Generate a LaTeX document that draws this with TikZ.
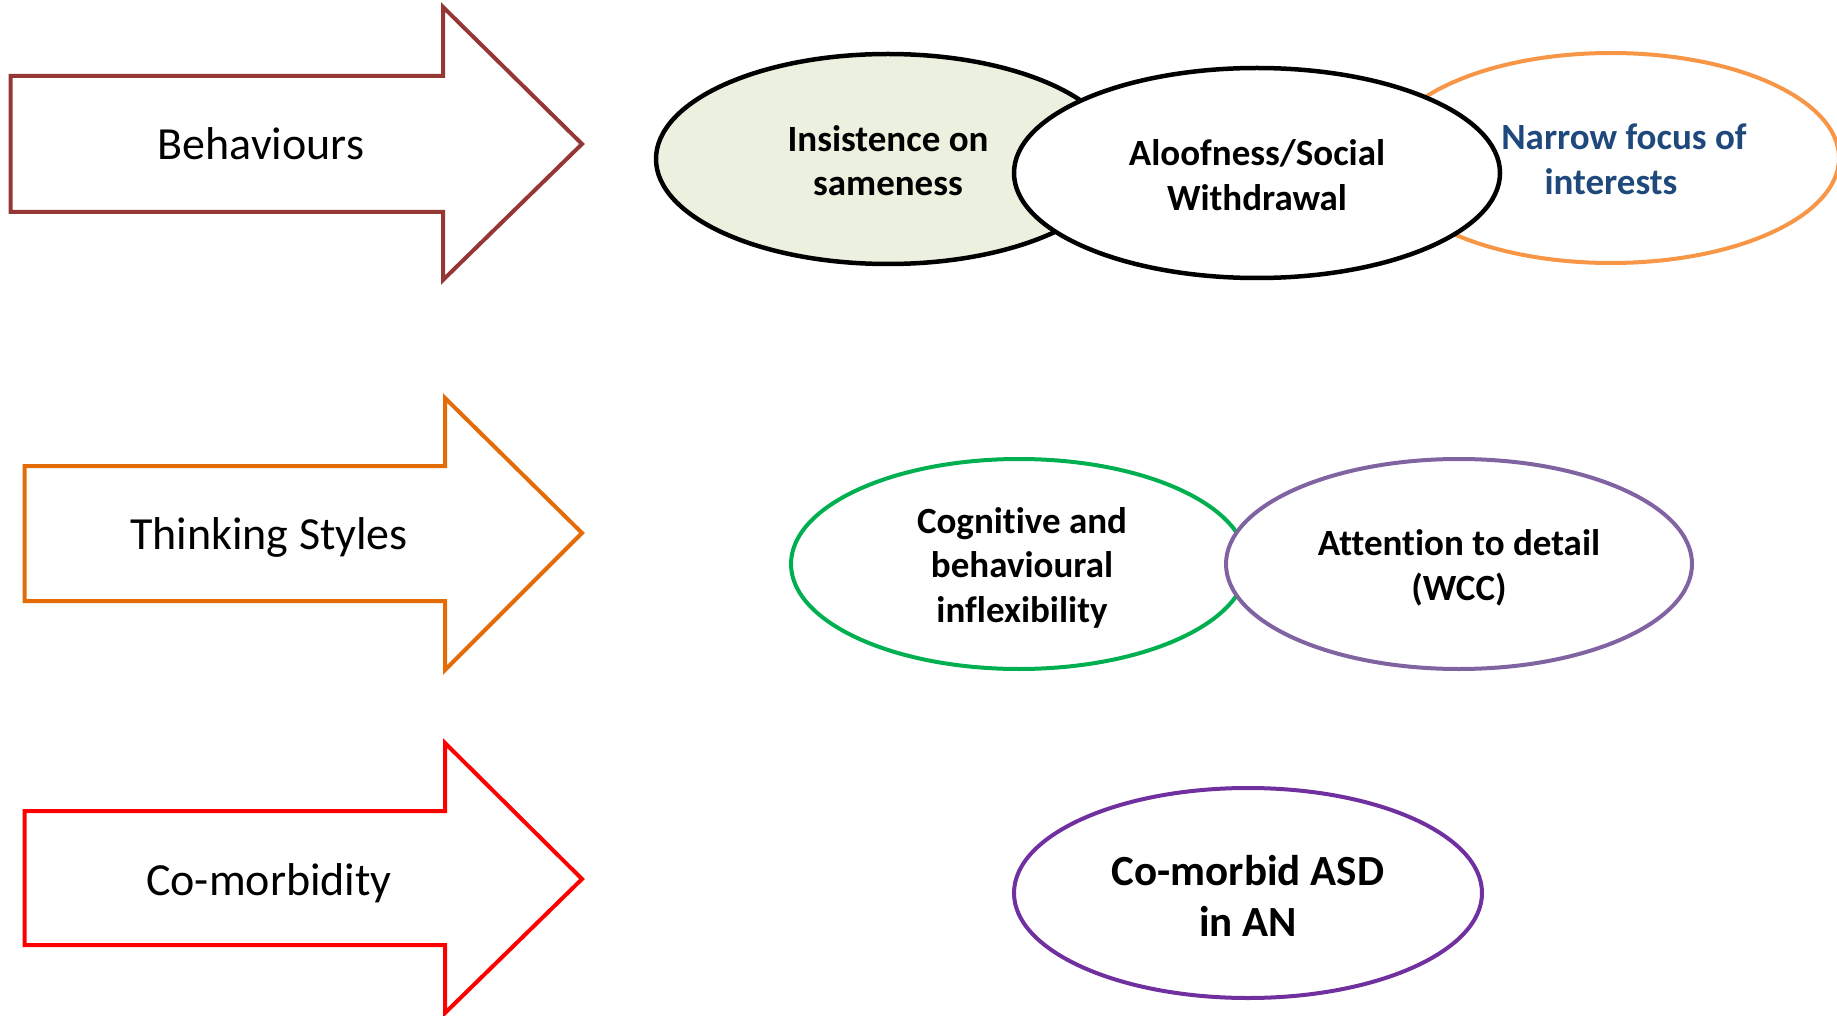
\documentclass[tikz,border=0pt]{standalone}
\usepackage{fontspec}
\setmainfont[Ligatures=NoCommon]{Carlito}
\usetikzlibrary{shapes.geometric}
\definecolor{behav}{HTML}{953735}
\definecolor{think}{HTML}{E36C09}
\definecolor{comorb}{HTML}{FF0000}
\definecolor{lightgreen}{HTML}{EBF1DE}
\definecolor{orangeb}{HTML}{F79646}
\definecolor{darkblue}{HTML}{1F497D}
\definecolor{greenb}{HTML}{00B050}
\definecolor{purpleb}{HTML}{8064A2}
\definecolor{purpled}{HTML}{7030A0}
\tikzset{
  arrowshape/.style={line width=4pt, fill=white, line join=miter},
  arrowlabel/.style={font=\fontsize{46}{55}\selectfont, text=black},
  bubble/.style={ellipse, draw, line width=4.5pt, inner sep=0pt, fill=white},
  bubbletext/.style={align=center, inner sep=0pt,
    font=\fontsize{37}{44.5}\selectfont\bfseries},
}
\begin{document}
\begin{tikzpicture}[x=1pt,y=-1pt]
\useasboundingbox (0,0) rectangle (1837,1016);
\fill[white] (0,0) rectangle (1837,1016);

% arrows
\draw[arrowshape, draw=behav] (10.5,76) -- (443,76) -- (443,7) -- (582,144) -- (443,280) -- (443,212) -- (10.5,212) -- cycle;
\node[arrowlabel] (lbeh) at (261,144) {Behaviours};

\draw[arrowshape, draw=think] (24.6,466) -- (445,466) -- (445,398) -- (582,533) -- (445,670) -- (445,601) -- (24.6,601) -- cycle;
\node[arrowlabel] (lthink) at (269,537) {Thinking Styles};

\draw[arrowshape, draw=comorb] (24.6,811) -- (445,811) -- (445,743) -- (582,879) -- (445,1013) -- (445,945) -- (24.6,945) -- cycle;
\node[arrowlabel] (lcomorb) at (269,883) {Co-morbidity};

% behaviour bubbles
\node[bubble, draw=orangeb, line width=4pt, minimum width=456pt, minimum height=210pt] (narrow) at (1611,158) {};
\node[bubble, draw=black, fill=lightgreen, minimum width=464pt, minimum height=210pt] (insist) at (888,159) {};
\node[bubble, draw=black, minimum width=486pt, minimum height=210pt] (aloof) at (1257,173) {};
\node[bubbletext, text=darkblue] (tnarrow) at ([yshift=-1.5pt]narrow.center) {\hspace*{26pt}Narrow focus of\\interests};
\node[bubbletext] (tinsist) at ([yshift=-1.5pt]insist.center) {Insistence on\\sameness};
\node[bubbletext] (taloof) at ([yshift=-2pt]aloof.center) {Aloofness/Social\\Withdrawal};

% thinking style bubbles
\node[bubble, draw=greenb, line width=4pt, minimum width=456pt, minimum height=210pt] (cogn) at (1019,564) {};
\node[bubble, draw=purpleb, line width=4pt, minimum width=466pt, minimum height=210pt] (attn) at (1459,564) {};
\node[bubbletext] (tcogn) at ([yshift=-3.5pt, xshift=3pt]cogn.center) {Cognitive and\\behavioural\\inflexibility};
\node[bubbletext] (tattn) at ([yshift=-4pt]attn.center) {Attention to detail\\(WCC)};

% co-morbidity bubble
\node[bubble, draw=purpled, line width=4pt, minimum width=468pt, minimum height=210pt] (asd) at (1248,893) {};
\node[bubbletext, font=\fontsize{43}{51}\selectfont\bfseries] (tasd) at ([yshift=-2.5pt]asd.center) {Co-morbid ASD\\in AN};
\end{tikzpicture}
\end{document}
